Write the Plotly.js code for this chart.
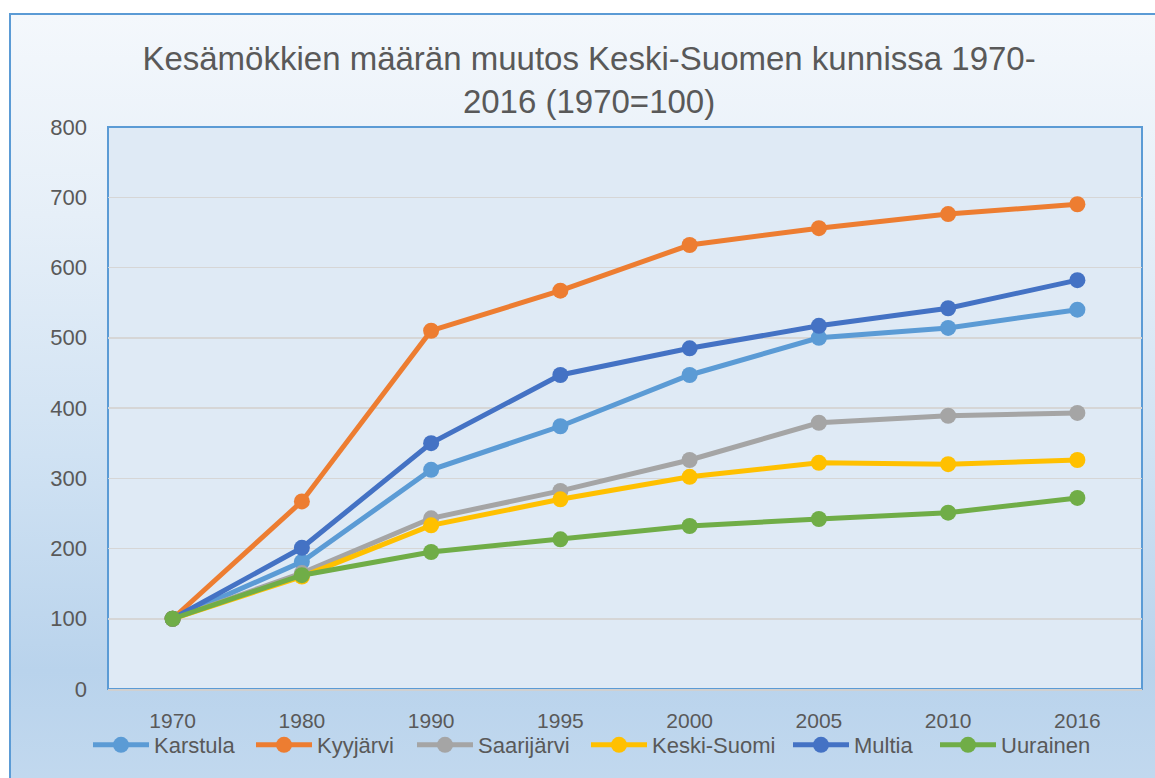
<!DOCTYPE html>
<html>
<head>
<meta charset="utf-8">
<script src="https://cdn.plot.ly/plotly-3.0.1.min.js"></script>
<style>
  html, body { margin:0; padding:0; width:1155px; height:778px; overflow:hidden; background:#ffffff; }
  #frame { position:absolute; left:9px; top:13px; width:1160px; height:800px;
    border-left:2px solid #5b9bd5; border-top:2px solid #5b9bd5;
    background: linear-gradient(to bottom, #f4f8fc 0%, #e6eff8 25%, #d0e2f3 55%, #b9d3ec 82%, #c4daef 100%); }
  #chart { position:absolute; left:0; top:0; width:1155px; height:778px; }
</style>
</head>
<body>
<div id="frame"></div>
<div id="chart"></div>
<script>
const years = ['1970','1980','1990','1995','2000','2005','2010','2016'];
const karstula   = [100, 181, 312, 374, 447, 500, 514, 540];
const kyyjarvi   = [100, 267, 510, 567, 632, 656, 676, 690];
const saarijarvi = [100, 165, 243, 282, 326, 379, 389, 393];
const keskiSuomi = [100, 160, 233, 270, 302, 322, 320, 326];
const multia     = [100, 201, 350, 447, 485, 517, 542, 582];
const uurainen   = [100, 162, 195, 213, 232, 242, 251, 272];

const seriesNames = ['Karstula','Kyyjärvi','Saarijärvi','Keski-Suomi','Multia','Uurainen'];
const seriesData = [karstula, kyyjarvi, saarijarvi, keskiSuomi, multia, uurainen];
const colors = ['#5b9bd5','#ed7d31','#a5a5a5','#ffc000','#4472c4','#70ad47'];
// left edge (px) of each legend entry
const legendX = [88, 251, 412, 586, 788, 935];

const font = 'Liberation Sans, Arial, sans-serif';
const legendIds = ['legend','legend2','legend3','legend4','legend5','legend6'];

const traces = seriesNames.map((n, i) => ({
  type: 'scatter', mode: 'lines+markers', name: n,
  x: years, y: seriesData[i],
  line: {color: colors[i], width: 5},
  marker: {color: colors[i], size: 16},
  legend: legendIds[i]
}));

const layout = {
  width: 1155, height: 778,
  paper_bgcolor: 'rgba(0,0,0,0)',
  plot_bgcolor: '#dfeaf5',
  margin: {l: 108, r: 13, t: 127, b: 89},
  title: {
    text: 'Kesämökkien määrän muutos Keski-Suomen kunnissa 1970-<br>2016 (1970=100)',
    font: {family: font, size: 33, color: '#595959'},
    x: 0.51, xref: 'container', xanchor: 'center',
    y: 1 - 70/778, yref: 'container', yanchor: 'middle'
  },
  xaxis: {
    type: 'category', range: [-0.5, 7.5],
    showgrid: false, zeroline: false,
    showline: true, linecolor: '#d0d0d0', linewidth: 2,
    ticks: '', ticklabelstandoff: 12,
    tickfont: {family: font, size: 21, color: '#595959'}
  },
  yaxis: {
    range: [0, 800], dtick: 100, tick0: 0,
    showgrid: true, gridcolor: '#d6d6d6', gridwidth: 1.5,
    zeroline: false, showline: false,
    ticks: '', ticklabelstandoff: 20,
    tickfont: {family: font, size: 22, color: '#595959'}
  },
  shapes: [
    {type: 'rect', xref: 'paper', yref: 'paper', x0: 0, x1: 1, y0: 0, y1: 1,
     line: {color: '#5b9bd5', width: 2}, layer: 'below'}
  ],
  showlegend: true
};

legendIds.forEach((id, i) => {
  layout[id] = {
    orientation: 'h', xref: 'container', yref: 'container',
    x: legendX[i] / 1155, y: 1 - 745/778, xanchor: 'left', yanchor: 'middle',
    font: {family: font, size: 22, color: '#595959'},
    bgcolor: 'rgba(0,0,0,0)', itemwidth: 56
  };
});

Plotly.newPlot('chart', traces, layout, {displayModeBar: false, staticPlot: true});
</script>
</body>
</html>
